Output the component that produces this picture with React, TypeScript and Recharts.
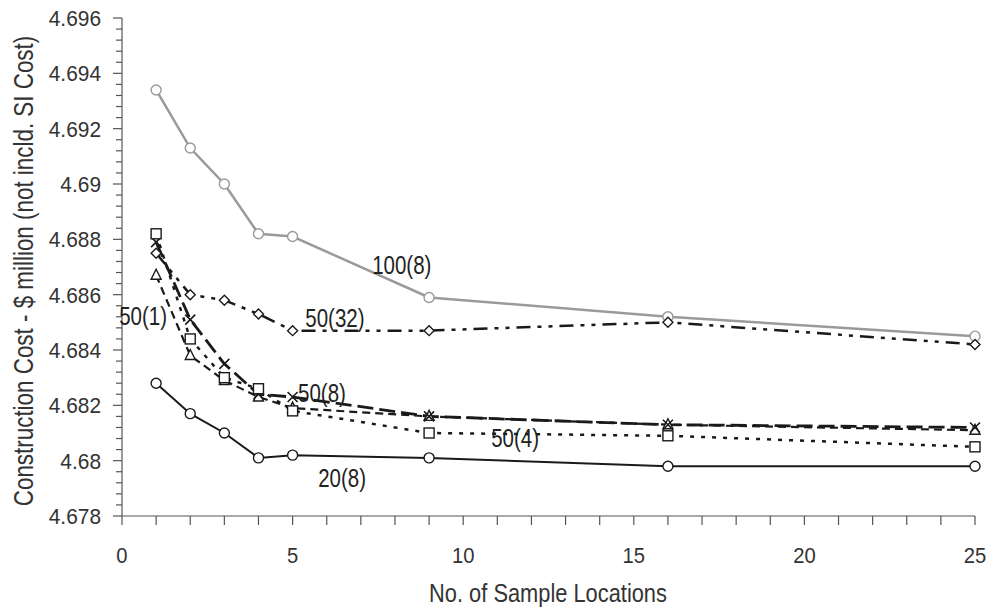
import React from "react";
import { LineChart, Line, XAxis, YAxis, ReferenceDot } from "recharts";

const sampleLocations = [1, 2, 3, 4, 5, 9, 16, 25];
const cost100_8 = [4.6934, 4.6913, 4.69, 4.6882, 4.6881, 4.6859, 4.6852, 4.6845];
const cost50_32 = [4.6875, 4.686, 4.6858, 4.6853, 4.6847, 4.6847, 4.685, 4.6842];
const cost50_8 = [4.6879, 4.6851, 4.6835, 4.6824, 4.6823, 4.6816, 4.6813, 4.6812];
const cost50_4 = [4.6882, 4.6844, 4.683, 4.6826, 4.6818, 4.681, 4.6809, 4.6805];
const cost50_1 = [4.6867, 4.6838, 4.6829, 4.6823, 4.6819, 4.6816, 4.6813, 4.6811];
const cost20_8 = [4.6828, 4.6817, 4.681, 4.6801, 4.6802, 4.6801, 4.6798, 4.6798];

const xTicks = Array.from({ length: 26 }, (_, i) => i);
const yMajorTicks = [4.678, 4.68, 4.682, 4.684, 4.686, 4.688, 4.69, 4.692, 4.694, 4.696];
const yTicks = Array.from({ length: 46 }, (_, i) => +(4.678 + i * 0.0004).toFixed(4));

const curveLabels = [
  { text: "100(8)", x: 8.2, y: 4.68707 },
  { text: "50(32)", x: 6.24, y: 4.68516 },
  { text: "50(1)", x: 0.62, y: 4.68523 },
  { text: "50(8)", x: 5.86, y: 4.68245 },
  { text: "50(4)", x: 11.52, y: 4.68082 },
  { text: "20(8)", x: 6.45, y: 4.67937 },
];

const data = sampleLocations.map((x, i) => ({
  x,
  c100_8: cost100_8[i],
  c50_32: cost50_32[i],
  c50_8: cost50_8[i],
  c50_4: cost50_4[i],
  c50_1: cost50_1[i],
  c20_8: cost20_8[i],
}));

const FONT = "'Liberation Sans', Arial, sans-serif";
const INK = "#1a1a1a";
const AXIS = "#555";

// condensed-looking text: plain text squeezed horizontally
function NText({ x, y, size, sx = 1, anchor = "middle", rotate = 0, dy, fill = "#333", children }: any) {
  const t = `translate(${x},${y})${rotate ? ` rotate(${rotate})` : ""} scale(${sx},1)`;
  return (
    <text transform={t} dy={dy} textAnchor={anchor} fontSize={size} fontFamily={FONT} fill={fill}>
      {children}
    </text>
  );
}

type MarkerKind = "circle" | "diamond" | "cross" | "square" | "triangle";

function makeDot(kind: MarkerKind, color: string) {
  return (props: any) => {
    const { cx, cy, index } = props;
    const k = `${kind}-${index}`;
    if (cx == null || cy == null) return <g key={k} />;
    const s = { fill: "#fff", stroke: color, strokeWidth: 1.4 };
    if (kind === "circle") return <circle key={k} cx={cx} cy={cy} r={5} {...s} />;
    if (kind === "square") return <rect key={k} x={cx - 5} y={cy - 5} width={10} height={10} {...s} />;
    if (kind === "diamond")
      return <path key={k} d={`M${cx},${cy - 5}L${cx + 5},${cy}L${cx},${cy + 5}L${cx - 5},${cy}Z`} {...s} />;
    if (kind === "triangle")
      return <path key={k} d={`M${cx},${cy - 6}L${cx + 5},${cy + 4}L${cx - 5},${cy + 4}Z`} {...s} />;
    return (
      <path
        key={k}
        d={`M${cx - 5},${cy - 5}L${cx + 5},${cy + 5}M${cx - 5},${cy + 5}L${cx + 5},${cy - 5}`}
        stroke={color}
        strokeWidth={1.6}
        fill="none"
      />
    );
  };
}

function YTick(props: any) {
  const { x, y, payload } = props;
  const v = payload.value as number;
  const major = yMajorTicks.some((m) => Math.abs(m - v) < 1e-6);
  return (
    <g>
      <line x1={x} x2={x - (major ? 9 : 6)} y1={y} y2={y} stroke={AXIS} strokeWidth={1.2} />
      {major && (
        <NText x={x - 21} y={y} dy="0.36em" size={22} sx={0.95} anchor="end">
          {String(+v.toFixed(3))}
        </NText>
      )}
    </g>
  );
}

function XTick(props: any) {
  const { x, y, payload } = props;
  const v = payload.value as number;
  return (
    <g>
      <line x1={x} x2={x} y1={y} y2={y + 9} stroke={AXIS} strokeWidth={1.2} />
      {v % 5 === 0 && (
        <NText x={x} y={y + 47} size={22} sx={0.92}>
          {v}
        </NText>
      )}
    </g>
  );
}

export default function App() {
  return (
    <div style={{ position: "fixed", left: 0, top: 0, width: 989, height: 607, background: "#fff" }}>
      <LineChart width={989} height={607} data={data} margin={{ top: 18, right: 14, bottom: 51, left: 0 }}>
        <XAxis
          dataKey="x"
          type="number"
          domain={[0, 25]}
          ticks={xTicks}
          interval={0}
          tickSize={0}
          tickMargin={0}
          tick={<XTick />}
          height={40}
          stroke={AXIS}
          strokeWidth={1.2}
        />
        <YAxis
          type="number"
          domain={[4.678, 4.696]}
          ticks={yTicks}
          interval={0}
          allowDataOverflow
          tickSize={0}
          tickMargin={0}
          tick={<YTick />}
          width={122}
          stroke={AXIS}
          strokeWidth={1.2}
        />
        <Line dataKey="c100_8" stroke="#9a9a9a" strokeWidth={2.5} dot={makeDot("circle", "#9a9a9a")} isAnimationActive={false} />
        <Line dataKey="c50_32" stroke={INK} strokeWidth={2.5} strokeDasharray="14 7 4 7 4 7" dot={makeDot("diamond", INK)} isAnimationActive={false} />
        <Line dataKey="c50_1" stroke={INK} strokeWidth={2.2} strokeDasharray="8 5" dot={makeDot("triangle", INK)} isAnimationActive={false} />
        <Line dataKey="c50_8" stroke={INK} strokeWidth={2.8} strokeDasharray="16 6" dot={makeDot("cross", INK)} isAnimationActive={false} />
        <Line dataKey="c50_4" stroke={INK} strokeWidth={2.5} strokeDasharray="4 7" dot={makeDot("square", INK)} isAnimationActive={false} />
        <Line dataKey="c20_8" stroke={INK} strokeWidth={2} dot={makeDot("circle", INK)} isAnimationActive={false} />
        {curveLabels.map((l) => (
          <ReferenceDot
            key={l.text}
            x={l.x}
            y={l.y}
            r={1}
            fill="none"
            stroke="none"
            label={({ viewBox }: any) => (
              <NText
                x={viewBox.x + viewBox.width / 2}
                y={viewBox.y + viewBox.height / 2}
                dy="0.35em"
                size={25}
                sx={0.82}
                fill="#222"
              >
                {l.text}
              </NText>
            )}
          />
        ))}
      </LineChart>
      <svg width={989} height={607} style={{ position: "absolute", left: 0, top: 0, pointerEvents: "none" }}>
        <NText x={548} y={602} size={26} sx={0.84}>
          No. of Sample Locations
        </NText>
        <NText x={33} y={271} size={27} sx={0.83} rotate={-90}>
          Construction Cost - $ million (not incld. SI Cost)
        </NText>
      </svg>
    </div>
  );
}
